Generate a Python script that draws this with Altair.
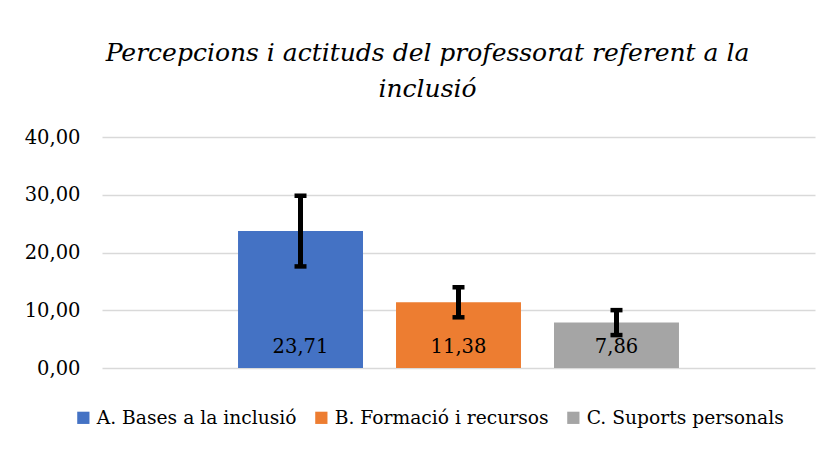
import altair as alt
import pandas as pd

series = ["A. Bases a la inclusió", "B. Formació i recursos", "C. Suports personals"]
means = [23.71, 11.38, 7.86]
errors = [6.12, 2.6, 2.16]
labels = ["23,71", "11,38", "7,86"]
colors = ["#4472C4", "#ED7D31", "#A5A5A5"]
y_ticks = [0, 10, 20, 30, 40]
title_lines = ["Percepcions i actituds del professorat referent a la", "inclusió"]

df = pd.DataFrame({
    "serie": series,
    "mean": means,
    "lo": [m - e for m, e in zip(means, errors)],
    "hi": [m + e for m, e in zip(means, errors)],
    "label": labels,
})

FONT = "DejaVu Serif"

x = alt.X("serie:N", axis=None, sort=series,
          scale=alt.Scale(paddingInner=0.209, paddingOuter=0.861))
y_scale = alt.Scale(domain=[0, 40], nice=False)

bars = alt.Chart(df).mark_bar().encode(
    x=x,
    y=alt.Y("mean:Q", scale=y_scale, title=None,
            axis=alt.Axis(values=y_ticks,
                          labelExpr="replace(format(datum.value, '.2f'), '.', ',')",
                          grid=True, domain=False, ticks=False,
                          labelFont=FONT, labelFontSize=19.5, labelColor="#000000",
                          labelPadding=22, gridColor="#D9D9D9", gridWidth=1.5)),
    color=alt.Color("serie:N", sort=series,
                    scale=alt.Scale(domain=series, range=colors),
                    legend=alt.Legend(title=None, orient="none", direction="horizontal",
                                      legendX=-28, legendY=271,
                                      symbolType="square", symbolSize=150,
                                      symbolStrokeWidth=0, symbolOpacity=1,
                                      labelFont=FONT, labelFontSize=18.7, labelLimit=0,
                                      labelColor="#000000", labelOffset=4,
                                      columnPadding=15)),
)

text = alt.Chart(df).mark_text(dy=-15, baseline="alphabetic", font=FONT,
                               fontSize=19.5, color="#000000").encode(
    x=x, y=alt.datum(0), text="label:N")

rules = alt.Chart(df).mark_rule(color="#000000", strokeWidth=5).encode(
    x=x, y="lo:Q", y2="hi:Q")
cap_hi = alt.Chart(df).mark_tick(color="#000000", thickness=4.5, size=12, opacity=1).encode(
    x=x, y="hi:Q")
cap_lo = alt.Chart(df).mark_tick(color="#000000", thickness=4.5, size=12, opacity=1).encode(
    x=x, y="lo:Q")

chart = alt.layer(bars, text, rules, cap_hi, cap_lo).properties(
    width=713, height=231,
    autosize=alt.AutoSizeParams(type="none"),
    padding={"left": 94, "top": 129, "right": 8, "bottom": 74},
    title=alt.TitleParams(title_lines, font=FONT, fontSize=25, fontStyle="italic",
                          fontWeight="normal", color="#000000", anchor="middle",
                          lineHeight=36, dx=-31, offset=25),
).configure_view(stroke=None)

chart.save("out.html", embed_options={"renderer": "svg", "actions": False})
